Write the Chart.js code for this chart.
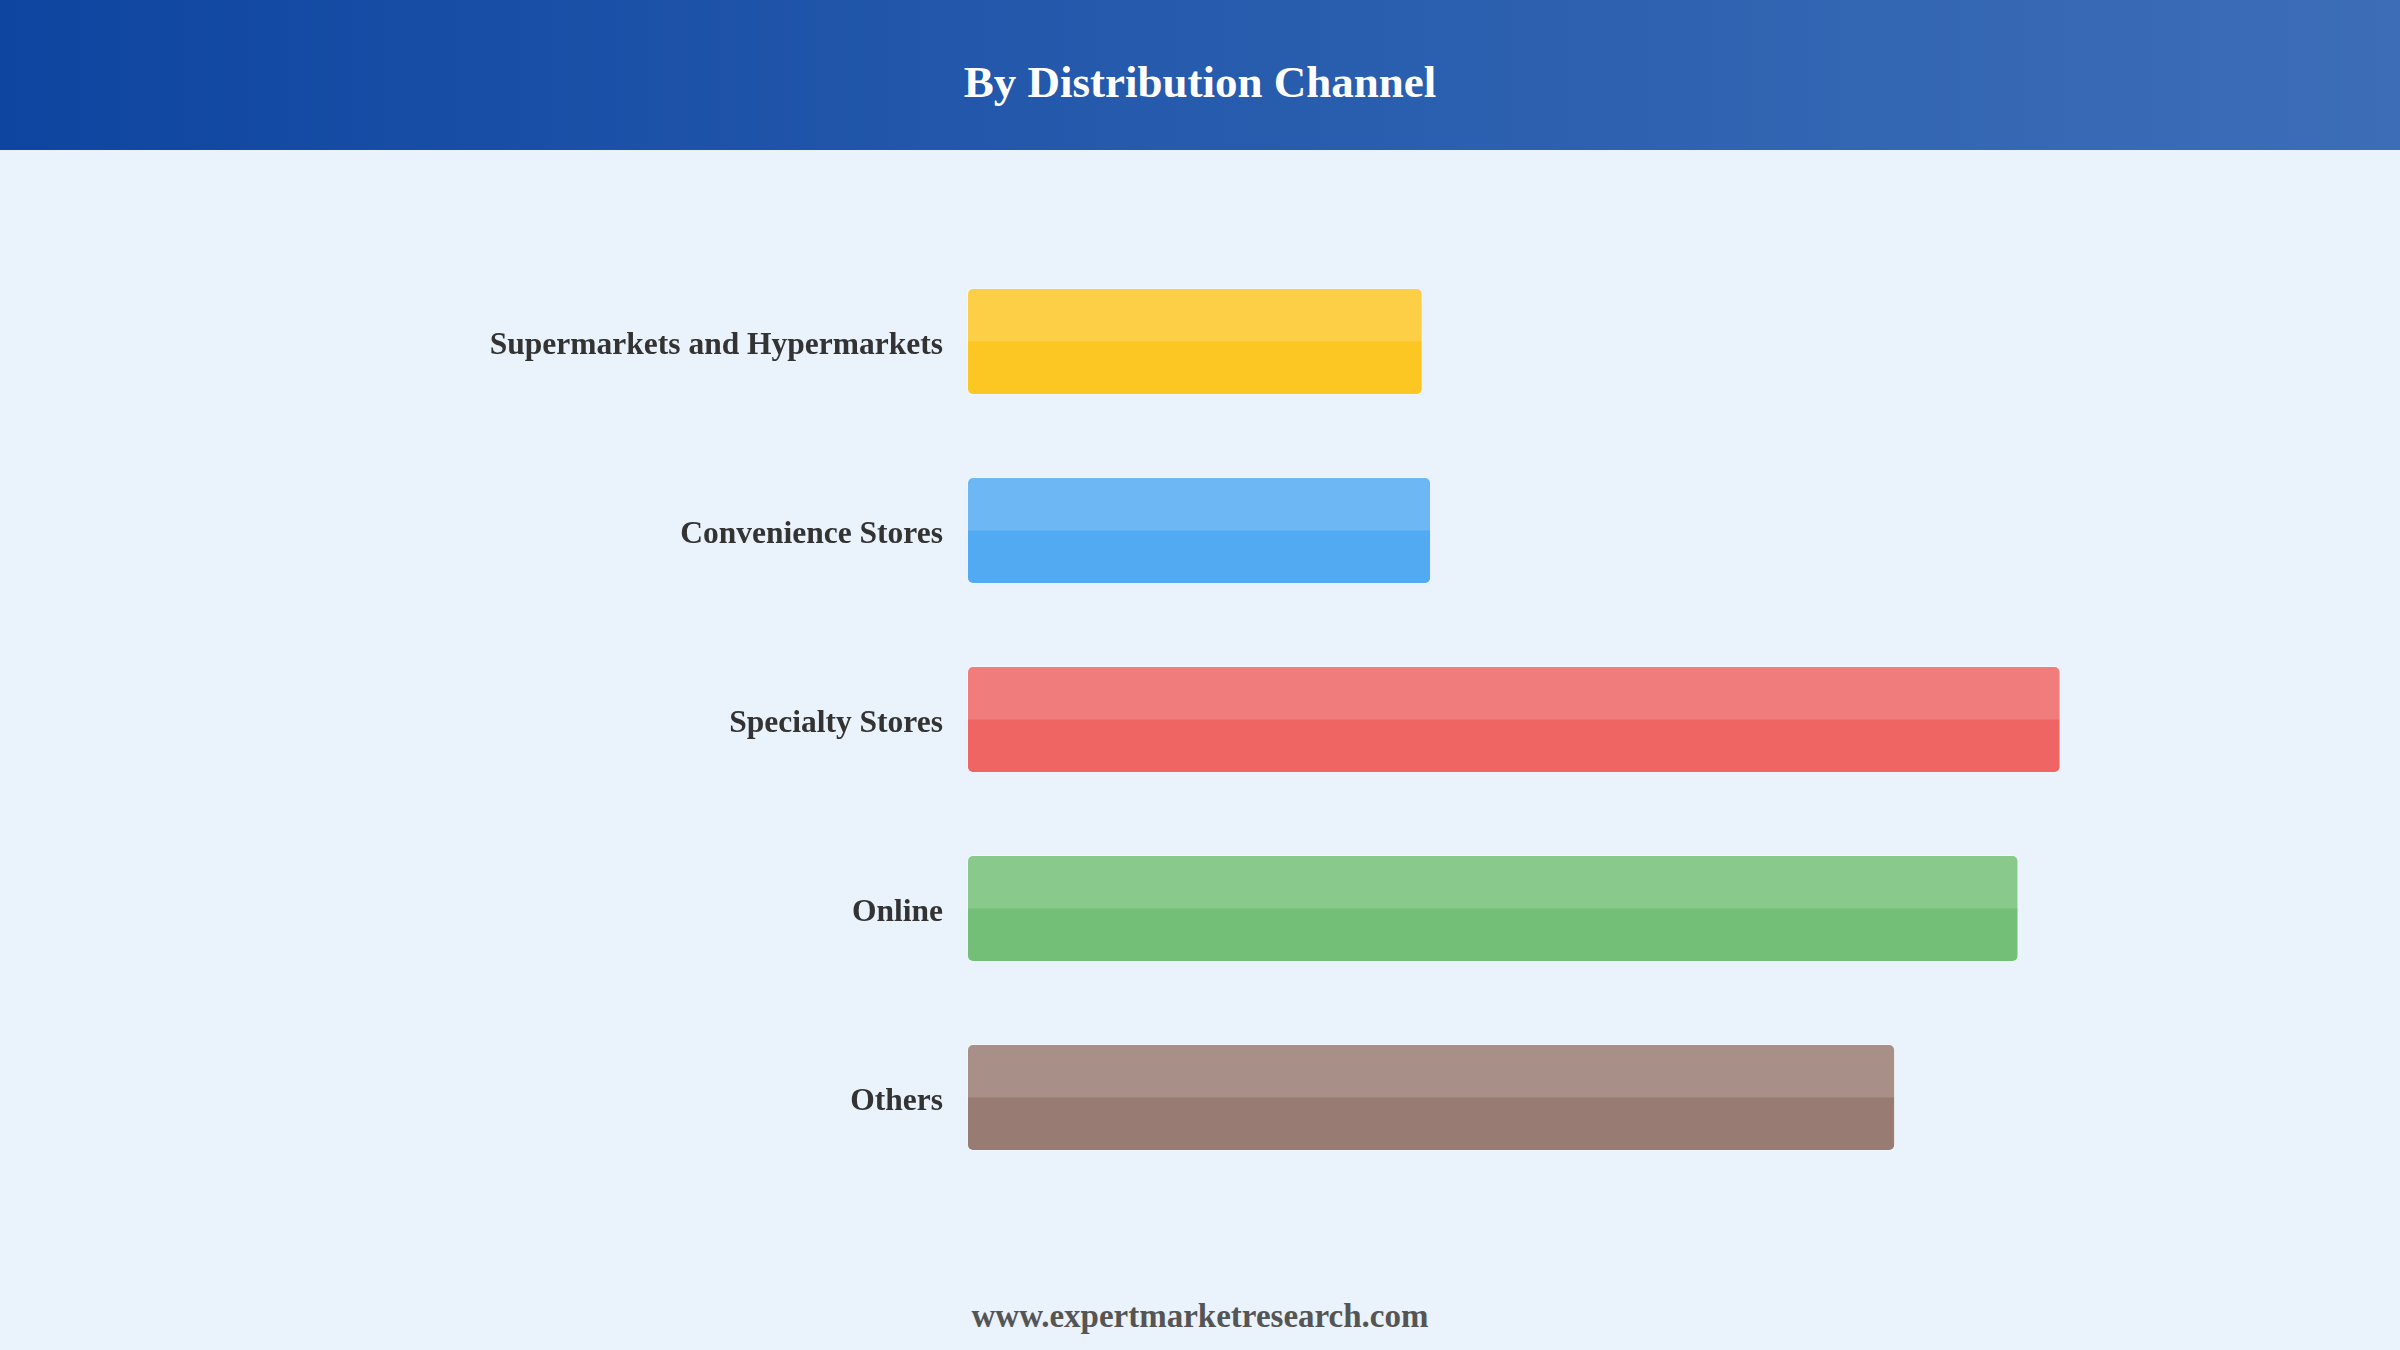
<!DOCTYPE html>
<html>
<head>
<meta charset="utf-8">
<script src="https://cdn.jsdelivr.net/npm/chart.js@4.4.1/dist/chart.umd.min.js"></script>
<style>
  html, body { margin: 0; padding: 0; }
  body {
    width: 2400px;
    height: 1350px;
    background: #eaf2fc;
    position: relative;
    overflow: hidden;
    font-family: "Liberation Serif", "Times New Roman", serif;
  }
  .header {
    position: absolute;
    left: 0; top: 0;
    width: 2400px; height: 150px;
    background: linear-gradient(90deg, #0e45a0 0%, #2257ab 40%, #2f63b1 70%, #3d6db7 100%);
  }
  .header h1 {
    margin: 0;
    line-height: 150px;
    text-align: center;
    color: #ffffff;
    font-size: 45px;
    font-weight: bold;
    position: relative;
    top: 7px;
  }
  .chart-box {
    position: absolute;
    left: 0; top: 150px;
    width: 2400px; height: 1100px;
  }
  .footer {
    position: absolute;
    left: 0; width: 2400px;
    top: 1298px;
    text-align: center;
    color: #555555;
    font-size: 33px;
    font-weight: bold;
  }
</style>
</head>
<body>
<div class="header"><h1>By Distribution Channel</h1></div>
<div class="chart-box"><canvas id="channelChart"></canvas></div>
<div class="footer">www.expertmarketresearch.com</div>

<script>
// data (bar length, arbitrary units, scale 0-100)
const channels = ["Supermarkets and Hypermarkets", "Convenience Stores", "Specialty Stores", "Online", "Others"];
const shares = [32.5, 33.1, 78.0, 75.0, 66.2];
const barColors = ["#fcc623", "#52abf2", "#ee6564", "#73bf77", "#987b72"];

// lighter upper half on every bar
const topShine = {
    id: "topShine",
    afterDatasetsDraw(chart) {
        const ctx = chart.ctx;
        chart.getDatasetMeta(0).data.forEach(bar => {
            const p = bar.getProps(["x", "y", "base", "height"], true);
            const left = Math.min(p.x, p.base);
            const w = Math.abs(p.x - p.base);
            ctx.save();
            ctx.fillStyle = "rgba(255, 255, 255, 0.16)";
            ctx.beginPath();
            ctx.roundRect(left, p.y - p.height / 2, w, p.height / 2, [6, 6, 0, 0]);
            ctx.fill();
            ctx.restore();
        });
    }
};

const channelCtx = document.getElementById("channelChart").getContext("2d");
const channelChart = new Chart(channelCtx, {
    type: "bar",
    data: {
        labels: channels,
        datasets: [
            {
                data: shares,
                backgroundColor: barColors,
                borderColor: "rgba(255, 255, 255, 0.25)",
                borderWidth: 1,
                borderRadius: 6,
                borderSkipped: false,
                categoryPercentage: 1,
                barPercentage: 0.565
            }
        ]
    },
    options: {
        indexAxis: "y",
        responsive: true,
        maintainAspectRatio: false,
        animation: false,
        devicePixelRatio: 1,
        layout: {
            padding: { top: 97, bottom: 58, left: 0, right: 31 }
        },
        plugins: {
            legend: { display: false },
            tooltip: { enabled: false }
        },
        scales: {
            x: {
                display: false,
                min: 0,
                max: 100
            },
            y: {
                grid: { display: false, drawTicks: false },
                border: { display: false },
                ticks: {
                    padding: 24,
                    labelOffset: 4,
                    color: "#333333",
                    font: { family: "'Liberation Serif', 'Times New Roman', serif", size: 31.5, weight: "bold" }
                },
                afterFit(scale) {
                    scale.width = 967;
                }
            }
        }
    },
    plugins: [topShine]
});
</script>
</body>
</html>
